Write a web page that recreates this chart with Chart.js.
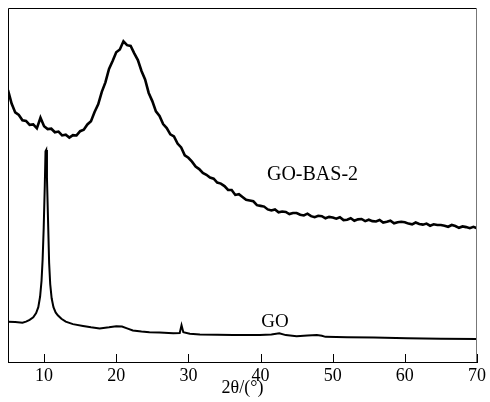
<!DOCTYPE html>
<html>
<head>
<meta charset="utf-8">
<script src="https://cdn.jsdelivr.net/npm/chart.js@4.4.0/dist/chart.umd.min.js"></script>
<style>
  html, body { margin: 0; padding: 0; background: #fff; }
  #wrap { width: 490px; height: 402px; }
</style>
</head>
<body>
<div id="wrap"><canvas id="c" width="490" height="402"></canvas></div>
<script>
// 2θ grid for GO-BAS-2 (0.5° steps, 5..70)
const basStart = 5, basStep = 0.5;
const basValues = [
  76.8, 73.0, 70.5, 69.8, 68.3, 68.1, 67.0, 67.1, 66.0, 69.0,
  66.6, 65.8, 65.9, 64.9, 65.1, 64.0, 64.2, 63.4, 64.1, 64.0,
  65.2, 65.6, 67.1, 68.0, 70.6, 72.8, 76.3, 79.0, 82.8, 85.0,
  87.5, 88.3, 90.6, 89.5, 89.3, 87.2, 85.3, 82.2, 79.8, 76.0,
  73.7, 70.8, 69.5, 67.2, 66.1, 64.3, 63.7, 61.7, 60.6, 58.4,
  57.7, 56.6, 55.2, 54.5, 53.4, 52.9, 52.1, 51.8, 50.7, 50.4,
  49.7, 48.6, 48.6, 47.2, 47.4, 46.6, 45.8, 45.6, 45.4, 44.3,
  44.1, 43.9, 43.1, 42.8, 43.1, 42.3, 42.5, 42.4, 41.8, 42.1,
  42.1, 41.6, 41.4, 41.9, 41.2, 40.9, 41.3, 41.2, 40.6, 41.0,
  40.8, 40.5, 40.9, 40.1, 40.2, 40.6, 39.9, 40.3, 40.4, 39.8,
  40.2, 39.8, 39.7, 40.1, 39.4, 39.6, 39.9, 39.2, 39.5, 39.6,
  39.5, 39.1, 38.9, 39.4, 39.0, 38.8, 39.1, 38.5, 38.9, 38.7,
  38.7, 38.5, 38.2, 38.7, 38.4, 37.9, 38.3, 38.1, 37.8, 38.2,
  37.8
];

// GO pattern (2θ, intensity)
const goX = [5, 6, 7, 7.5, 8, 8.5, 8.9, 9.2, 9.45, 9.65, 9.8, 9.95, 10.1, 10.2, 10.3, 10.4,
  10.55, 10.7, 10.85, 11.05, 11.3, 11.6, 11.9, 12.4, 13, 14, 15.4, 16.5, 17.7, 19, 20, 20.8,
  21.5, 22.3, 23.5, 24.6, 26, 27.9, 28.8, 29.05, 29.3, 30.2, 31.6, 34, 36.2, 39.9, 41.5,
  42.6, 43.5, 45, 46.5, 47.8, 48.5, 49, 52, 55.7, 60.3, 65, 70];
const goY = [11.4, 11.3, 11.1, 11.4, 11.9, 12.6, 13.8, 15.5, 18.5, 23, 29, 38, 50, 59.5, 59.9, 52,
  40, 28, 22, 18, 15.5, 14, 13.2, 12.2, 11.4, 10.7, 10.2, 9.8, 9.5, 9.8, 10.1, 10.0,
  9.5, 8.9, 8.6, 8.4, 8.3, 8.1, 8.2, 10.4, 8.4, 8.0, 7.8, 7.7, 7.6, 7.6, 7.8,
  8.1, 7.6, 7.3, 7.5, 7.6, 7.4, 7.1, 7.0, 6.9, 6.7, 6.6, 6.5];

const tickLabels = [10, 20, 30, 40, 50, 60, 70];
const seriesNames = ['GO-BAS-2', 'GO'];
// label anchor positions in data units
const labelX = [47.2, 42.0];
const labelY = [53.0, 11.4];

const basData = basValues.map((v, i) => ({ x: basStart + i * basStep, y: v }));
const goData = goX.map((x, i) => ({ x: x, y: goY[i] }));

const serif = "'Liberation Serif', 'Times New Roman', serif";

const framePlugin = {
  id: 'frame',
  afterDatasetsDraw(chart) {
    const { ctx, chartArea: a, scales } = chart;
    ctx.save();
    ctx.lineWidth = 1;
    ctx.strokeStyle = '#000';
    ctx.beginPath();
    ctx.moveTo(a.left + 0.5, a.bottom);
    ctx.lineTo(a.left + 0.5, a.top + 0.5);
    ctx.lineTo(a.right, a.top + 0.5);
    ctx.stroke();
    ctx.strokeStyle = '#777';
    ctx.beginPath();
    ctx.moveTo(a.right - 0.5, a.top);
    ctx.lineTo(a.right - 0.5, a.bottom);
    ctx.stroke();
    // inward ticks
    ctx.strokeStyle = '#000';
    ctx.beginPath();
    tickLabels.forEach(t => {
      const px = Math.round(scales.x.getPixelForValue(t)) + 0.5;
      ctx.moveTo(px, a.bottom);
      ctx.lineTo(px, a.bottom - 8);
    });
    ctx.stroke();
    // series labels
    ctx.fillStyle = '#000';
    ctx.textAlign = 'center';
    ctx.textBaseline = 'middle';
    ctx.font = '20px ' + serif;
    ctx.fillText(seriesNames[0], scales.x.getPixelForValue(labelX[0]), scales.y.getPixelForValue(labelY[0]));
    ctx.font = '19px ' + serif;
    ctx.fillText(seriesNames[1], scales.x.getPixelForValue(labelX[1]), scales.y.getPixelForValue(labelY[1]));
    ctx.restore();
  }
};

new Chart(document.getElementById('c'), {
  type: 'line',
  data: {
    datasets: [
      { label: seriesNames[0], data: basData, borderColor: '#000', borderWidth: 2.6, pointRadius: 0, tension: 0, fill: false },
      { label: seriesNames[1], data: goData, borderColor: '#000', borderWidth: 2, pointRadius: 0, tension: 0, fill: false }
    ]
  },
  options: {
    responsive: false,
    animation: false,
    layout: { padding: { left: 8, right: 13, top: 8, bottom: 0 } },
    plugins: { legend: { display: false }, tooltip: { enabled: false } },
    scales: {
      x: {
        type: 'linear',
        min: 5, max: 70,
        afterBuildTicks: s => { s.ticks = tickLabels.map(v => ({ value: v })); },
        afterFit: s => { s.height = 40; },
        grid: { display: true, drawOnChartArea: false, drawTicks: false },
        border: { display: true, color: '#000', width: 1 },
        ticks: { color: '#000', padding: 3, maxRotation: 0, font: { family: serif, size: 18 } },
        title: { display: true, text: '2θ/(°)', color: '#000', padding: { top: 0, bottom: 3 }, font: { family: serif, size: 18 } }
      },
      y: {
        display: false,
        min: 0, max: 100
      }
    }
  },
  plugins: [framePlugin]
});
</script>
</body>
</html>
